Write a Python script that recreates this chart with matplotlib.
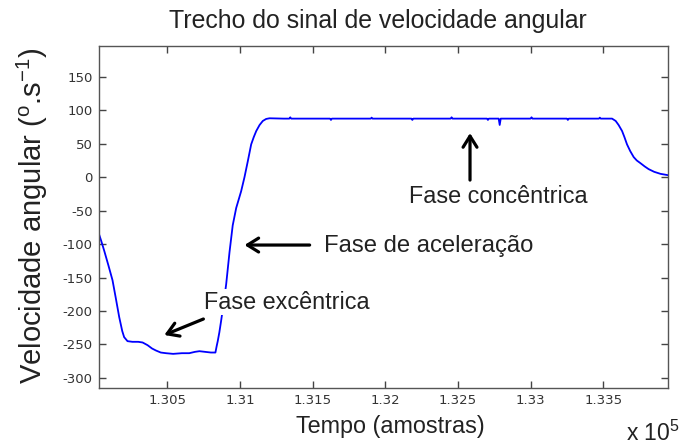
import matplotlib
matplotlib.use("Agg")
import matplotlib.pyplot as plt
from matplotlib.ticker import FixedLocator, FuncFormatter

plt.rcParams['mathtext.fontset'] = 'custom'
plt.rcParams['mathtext.rm'] = 'Liberation Sans'
plt.rcParams['mathtext.it'] = 'Liberation Sans'

# ---- data (sample index, angular velocity deg/s) ----
samples = [130030, 130045, 130066, 130095, 130123, 130145, 130169, 130190, 130203, 130226,
           130260, 130300, 130330, 130364, 130395, 130422, 130455, 130491, 130540, 130600,
           130651, 130690, 130721, 130760, 130800, 130831, 130840, 130847, 130858, 130870,
           130888, 130905, 130928, 130950, 130974, 131008, 131031, 131054, 131077, 131095,
           131112, 131135, 131157, 131180, 131203,
           131300, 131340, 131346, 131352, 131500, 131620, 131626, 131632, 131800, 131900,
           131906, 131912, 132050, 132180, 132186, 132192, 132330, 132450, 132456, 132462,
           132600, 132700, 132706, 132712, 132780, 132787, 132794, 132900, 133000, 133006,
           133012, 133150, 133250, 133256, 133262, 133400, 133470, 133476, 133482, 133560,
           133585, 133605, 133629, 133645, 133663, 133685, 133709, 133730, 133755, 133785,
           133812, 133850, 133893, 133945]
velocity = [-85, -95, -110, -132, -154, -180, -209, -230, -239, -245,
            -246, -246, -247, -251, -256, -259, -262, -263, -264, -263,
            -263, -261, -260, -261, -262, -262, -252, -245, -232, -215,
            -188, -160, -112, -72, -46, -21, 0, 24, 49, 60,
            69, 78, 84, 87, 88,
            87.5, 87.5, 89.5, 87.5, 87.5, 87.5, 85.5, 87.5, 87.5, 87.5,
            89, 87.5, 87.5, 87.5, 85.5, 87.5, 87.5, 87.5, 89.5, 87.5,
            87.5, 87.5, 85.5, 87.5, 87.5, 78, 87.5, 87.5, 87.5, 89.5,
            87.5, 87.5, 87.5, 85.5, 87.5, 87.5, 87.5, 89, 87.5, 87.5,
            84, 78, 69, 60, 49, 39, 30, 25, 21, 16,
            12, 8, 5, 3]

x_ticks = [130500, 131000, 131500, 132000, 132500, 133000, 133500]
y_ticks = [-300, -250, -200, -150, -100, -50, 0, 50, 100, 150]

fig = plt.figure(figsize=(6.88, 4.47), dpi=100)
ax = fig.add_axes([99/688, 1-388/447, (668-99)/688, (388-46)/447])

ax.plot(samples, velocity, color='#0000ff', lw=1.3)
ax.set_xlim(130030, 133945)
ax.set_ylim(-315, 196)

ax.xaxis.set_major_locator(FixedLocator(x_ticks))
ax.yaxis.set_major_locator(FixedLocator(y_ticks))
ax.xaxis.set_major_formatter(FuncFormatter(lambda v, p: f"{v/1e5:g}"))
ax.yaxis.set_major_formatter(FuncFormatter(lambda v, p: f"{v:g}"))
ax.tick_params(direction='in', length=5, width=1, top=True, right=True,
               labelsize=9.5, labelcolor='#333333', color='#444444', pad=4.5)
for lab in ax.get_xticklabels() + ax.get_yticklabels():
    lab.set_family('DejaVu Sans')
for s in ax.spines.values():
    s.set_color('#555555')
    s.set_linewidth(1.0)

FONT = 'Liberation Sans'
fig.text(378/688, 1-21/447, 'Trecho do sinal de velocidade angular', ha='center', va='center',
         fontsize=17.9, family=FONT, color='#222222')
fig.text(390/688, 1-426/447, 'Tempo (amostras)', ha='center', va='center',
         fontsize=16.8, family=FONT, color='#222222')
fig.text(32/688, 1-216/447, r'Velocidade angular ($^{\mathregular{o}}$.s$^{\mathregular{-1}}$)',
         ha='center', va='center', rotation=90, fontsize=21, family=FONT, color='#222222')
fig.text(626/688, 1-441/447, r'x 10$^{\mathregular{5}}$', ha='left', va='baseline',
         fontsize=16.5, family=FONT, color='#222222')

def d(px, py):
    return (130500 + (px - 168) / 72.5 * 500, (177.1 - py) / 33.48 * 50)

arrow = dict(arrowstyle='->,head_length=0.4,head_width=0.25', color='black', lw=2.3,
             shrinkA=0, shrinkB=0, mutation_scale=20)

ax.annotate('', xy=d(470, 133), xytext=d(470, 180), arrowprops=arrow)
ax.text(*d(498, 196), 'Fase concêntrica', ha='center', va='center', fontsize=16.8,
        family=FONT, color='#222222')

ax.annotate('', xy=d(245, 245), xytext=d(310, 245), arrowprops=arrow)
ax.text(*d(429, 246), 'Fase de aceleração', ha='center', va='center', fontsize=17.2,
        family=FONT, color='#222222')

ax.annotate('', xy=d(165, 335), xytext=d(204, 319), arrowprops=arrow)
ax.text(*d(287, 302), 'Fase excêntrica', ha='center', va='center', fontsize=16.8,
        family=FONT, color='#222222',
        bbox=dict(facecolor='white', edgecolor='none', pad=1))

fig.savefig('out.png', dpi=100)
